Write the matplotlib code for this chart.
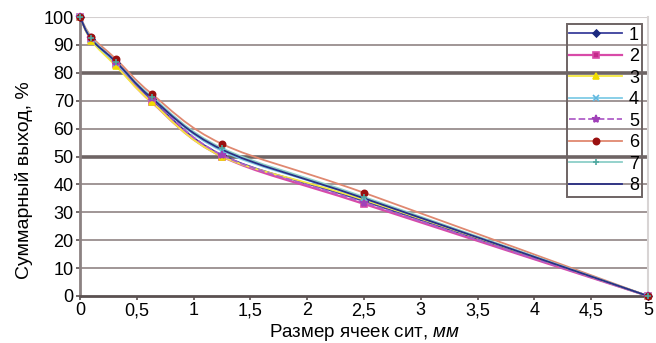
import numpy as np
import matplotlib
matplotlib.use("Agg")
import matplotlib.pyplot as plt
from matplotlib.path import Path
from matplotlib.patches import PathPatch
from matplotlib.lines import Line2D

plt.rcParams['font.family'] = ['Liberation Sans', 'DejaVu Sans']
plt.rcParams['mathtext.fontset'] = 'custom'
plt.rcParams['mathtext.rm'] = 'Liberation Sans'
plt.rcParams['mathtext.it'] = 'Liberation Sans:italic'

# Sieve mesh sizes, mm
sizes = [0, 0.1, 0.315, 0.63, 1.25, 2.5, 5]

# Cumulative yield, % for each sample
s1 = [100, 92.0, 83.5, 70.5, 50.5, 34.0, 0]
s2 = [100, 92.0, 83.0, 69.5, 50.0, 33.0, 0]
s3 = [100, 91.5, 82.5, 69.5, 50.0, 34.5, 0]
s4 = [100, 92.0, 83.5, 71.0, 52.0, 35.0, 0]
s5 = [100, 92.5, 84.0, 71.0, 50.5, 33.5, 0]
s6 = [100, 93.0, 85.0, 72.5, 54.5, 37.0, 0]
s7 = [100, 92.5, 84.0, 71.5, 53.0, 35.5, 0]
s8 = [100, 92.0, 84.0, 71.0, 52.5, 35.0, 0]

series_labels = ['1', '2', '3', '4', '5', '6', '7', '8']
xticks = [0, 0.5, 1, 1.5, 2, 2.5, 3, 3.5, 4, 4.5, 5]
xticklabels = ['0', '0,5', '1', '1,5', '2', '2,5', '3', '3,5', '4', '4,5', '5']
yticks = list(range(0, 101, 10))

styles = [
    dict(color='#3a3f9c', ls='-', marker='D', mfc='#1c2a80', mec='#1c2a80', ms=3.5, lw=1.3),
    dict(color='#d84aa8', ls='-', marker='s', mfc='#c42a8a', mec='#d84aa8', ms=5, lw=1.6),
    dict(color='#f5e840', ls='-', marker='^', mfc='#f0dc00', mec='#f0dc00', ms=5, lw=1.3),
    dict(color='#80cce6', ls='-', marker='x', mfc='#60b8e0', mec='#60b8e0', ms=4, lw=1.3),
    dict(color='#b060c8', ls='--', marker='*', mfc='#a040b8', mec='#a040b8', ms=6, lw=1.3),
    dict(color='#e08870', ls='-', marker='o', mfc='#9a1010', mec='#9a1010', ms=4.5, lw=1.3),
    dict(color='#8ccfc8', ls='-', marker='+', mfc='#50a8a0', mec='#50a8a0', ms=5, lw=1.3),
    dict(color='#2a2f85', ls='-', marker='None', mfc='none', mec='none', ms=0, lw=1.3),
]


def smooth_path(x, y):
    """Cubic Bezier through the points (spreadsheet-style smoothed line)."""
    x = np.asarray(x, float)
    y = np.asarray(y, float)
    n = len(x)
    verts = [(x[0], y[0])]
    codes = [Path.MOVETO]
    for i in range(n - 1):
        i0 = max(i - 1, 0)
        i3 = min(i + 2, n - 1)
        c1 = (x[i] + (x[i + 1] - x[i0]) / 6.0, y[i] + (y[i + 1] - y[i0]) / 6.0)
        c2 = (x[i + 1] - (x[i3] - x[i]) / 6.0, y[i + 1] - (y[i3] - y[i]) / 6.0)
        verts += [c1, c2, (x[i + 1], y[i + 1])]
        codes += [Path.CURVE4] * 3
    return Path(verts, codes)


fig = plt.figure(figsize=(6.56, 3.43), dpi=100)
ax = fig.add_axes([80 / 656, 47 / 343, 568 / 656, 279 / 343])

ax.set_xlim(0, 5)
ax.set_ylim(0, 100)

all_series = [s1, s2, s3, s4, s5, s6, s7, s8]
handles = []
for vals, st, lab in zip(all_series, styles, series_labels):
    patch = PathPatch(smooth_path(sizes, vals), facecolor='none', edgecolor=st['color'],
                      lw=st['lw'], ls=st['ls'], zorder=3)
    ax.add_patch(patch)
    if st['marker'] != 'None':
        ax.plot(sizes, vals, ls='none', marker=st['marker'], ms=st['ms'],
                mfc=st['mfc'], mec=st['mec'], mew=1.2, zorder=4, clip_on=False)
    handles.append(Line2D([], [], color=st['color'], ls=st['ls'], lw=st['lw'],
                          marker=st['marker'], ms=st['ms'], mfc=st['mfc'],
                          mec=st['mec'], mew=1.2))

ax.spines['top'].set_visible(False)
ax.spines['right'].set_color('#d8d4d4')
ax.spines['right'].set_linewidth(1.5)
ax.spines['left'].set_color('#8c8282')
ax.spines['left'].set_linewidth(2)
ax.spines['bottom'].set_color('#5a5050')
ax.spines['bottom'].set_linewidth(2)

ax.set_xticks(xticks)
ax.set_xticklabels(xticklabels)
ax.set_yticks(yticks)
ax.tick_params(axis='both', labelsize=13, length=3, width=1.2, color='#5a5050',
               direction='out', pad=1.5)

ax.set_xlabel('Размер ячеек сит, $\\mathit{мм}$', fontsize=13.5, labelpad=2)
ax.set_ylabel('Суммарный выход, %', fontsize=14)
ax.yaxis.set_label_coords(-0.083, 0.416)

# horizontal grid
for v in yticks[1:]:
    if v == 100:
        c, w = '#d4d0d0', 1.5
    elif v in (80, 50):
        c, w = '#6e6464', 2.6
    else:
        c, w = '#988e8e', 1.3
    ax.axhline(v, color=c, lw=w, zorder=1.5)

# transparent legend box: the grid stays visible through it
leg = ax.legend(handles=handles, labels=series_labels, loc='upper right',
                bbox_to_anchor=(0.989, 0.975), fontsize=13, handlelength=2.9,
                labelspacing=0.25, borderpad=0.15, handletextpad=0.4,
                borderaxespad=0.0, fancybox=False, framealpha=1,
                edgecolor='#6e6464', shadow=False)
leg.get_frame().set_facecolor('none')
leg.get_frame().set_linewidth(1.4)
leg.set_zorder(5)

fig.savefig('out.png', dpi=100)
